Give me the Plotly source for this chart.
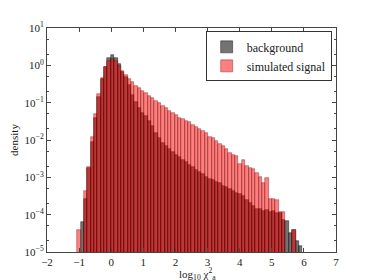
import numpy as np
import plotly.graph_objects as go

# histogram bin edges (log10 chi^2), 67 bins shared by both series
bin_edges = np.linspace(-1.06, 5.95, 68)

background = [None, 6.5e-5, 2.7e-4, 1.74e-3, 8.9e-3, 3.8e-2, 0.145, 0.43, 0.89, 1.58,
              1.93, 1.62, 1.08, 0.68, 0.50, 0.30, 0.158, 0.105, 0.074, 0.054,
              0.043, 0.033, 0.024, 0.0155, 0.011, 0.0081, 0.0071, 0.0056, 0.0048, 0.0040,
              0.0034, 0.0029, 0.0026, 0.0022, 0.0019, 0.00162, 0.00141, 0.00123, 0.00102, 8.9e-4,
              8.3e-4, 7.6e-4, 6.9e-4, 6.0e-4, 5.5e-4, 4.9e-4, 4.4e-4, 3.8e-4, 3.5e-4, 3.2e-4,
              2.5e-4, 2.0e-4, 1.7e-4, 1.41e-4, 1.38e-4, 1.26e-4, 1.32e-4, 1.2e-4, 1.26e-4, 1.12e-4,
              1.12e-4, 7.1e-5, 6.8e-5, 3.2e-5, 3.8e-5, 1.95e-5, 1.45e-5]

signal = [4.0e-5, None, 4.4e-4, 1.9e-3, 0.0123, 0.049, 0.166, 0.457, 0.93, 1.30,
          1.46, 1.27, 0.94, 0.69, 0.55, 0.43, 0.35, 0.284, 0.242, 0.209,
          0.177, 0.150, 0.130, 0.110, 0.0955, 0.081, 0.070, 0.0596, 0.0537, 0.0466,
          0.0394, 0.0356, 0.0328, 0.0309, 0.0251, 0.0219, 0.0195, 0.0174, 0.0151, 0.0123,
          0.011, 0.0093, 0.0077, 0.0068, 0.0056, 0.0046, 0.0040, 0.0037, 0.00234, 0.00288,
          0.0020, 0.00174, 0.00166, 0.00132, 0.0010, 7.1e-4, 9.5e-4, 2.7e-4, 2.7e-4, 2.4e-4,
          1.2e-4, 1.2e-4, None, None, 4.0e-5, None, None]

series_names = ["background", "simulated signal"]
y_tick_vals = [1e-5, 1e-4, 1e-3, 1e-2, 1e-1, 1e0, 1e1]
y_tick_text = ["10<sup>−5</sup>", "10<sup>−4</sup>", "10<sup>−3</sup>", "10<sup>−2</sup>",
               "10<sup>−1</sup>", "10<sup>0</sup>", "10<sup>1</sup>"]
x_tick_vals = [-2, -1, 0, 1, 2, 3, 4, 5, 6, 7]
x_tick_text = ["−2", "−1", "0", "1", "2", "3", "4", "5", "6", "7"]
x_title = "log<sub>10</sub> χ<sup>2</sup><sub>a</sub>"
y_title = "density"

centers = (bin_edges[:-1] + bin_edges[1:]) / 2
widths = np.diff(bin_edges)

FONT = "Liberation Serif"
AX = "#444444"

fig = go.Figure()
fig.add_trace(go.Bar(x=centers, y=background, width=widths, name=series_names[0],
                     marker=dict(color="rgba(0,0,0,0.55)",
                                 line=dict(color="rgba(0,0,0,0.7)", width=0.6))))
fig.add_trace(go.Bar(x=centers, y=signal, width=widths, name=series_names[1],
                     marker=dict(color="rgba(255,0,0,0.5)",
                                 line=dict(color="rgba(90,0,0,0.6)", width=0.6))))

# the page body adds an 8px offset, so the figure is sized 8px smaller
fig.update_layout(
    width=366, height=272,
    margin=dict(l=39, r=38, t=20, b=28, autoexpand=False),
    barmode="overlay", bargap=0,
    paper_bgcolor="white", plot_bgcolor="white",
    font=dict(family=FONT, size=11, color="#222222"),
    showlegend=True,
    legend=dict(x=0.985, y=0.985, xanchor="right", yanchor="top",
                bordercolor="#333333", borderwidth=1, bgcolor="white",
                font=dict(family=FONT, size=12), itemwidth=30,
                tracegroupgap=0),
    annotations=[dict(text=x_title, xref="paper", yref="paper", x=0.52, y=-0.097,
                      xanchor="center", yanchor="middle", showarrow=False,
                      font=dict(family=FONT, size=11, color="#222222"))],
)
fig.update_xaxes(range=[-2, 7], tickvals=x_tick_vals, ticktext=x_tick_text,
                 ticks="inside", ticklen=4, tickcolor=AX, showline=True, linecolor=AX,
                 linewidth=1, mirror="allticks", showgrid=False, zeroline=False,
                 automargin=False, tickfont=dict(size=11))
fig.update_yaxes(type="log", range=[-5, 1], tickvals=y_tick_vals, ticktext=y_tick_text,
                 ticks="inside", ticklen=4, tickcolor=AX, showline=True, linecolor=AX,
                 linewidth=1, mirror="allticks", showgrid=False, zeroline=False,
                 automargin=False,
                 minor=dict(ticks="inside", ticklen=2, tickcolor=AX, showgrid=False),
                 title=dict(text=y_title, standoff=6, font=dict(size=11)))

fig.write_html("out.html")
